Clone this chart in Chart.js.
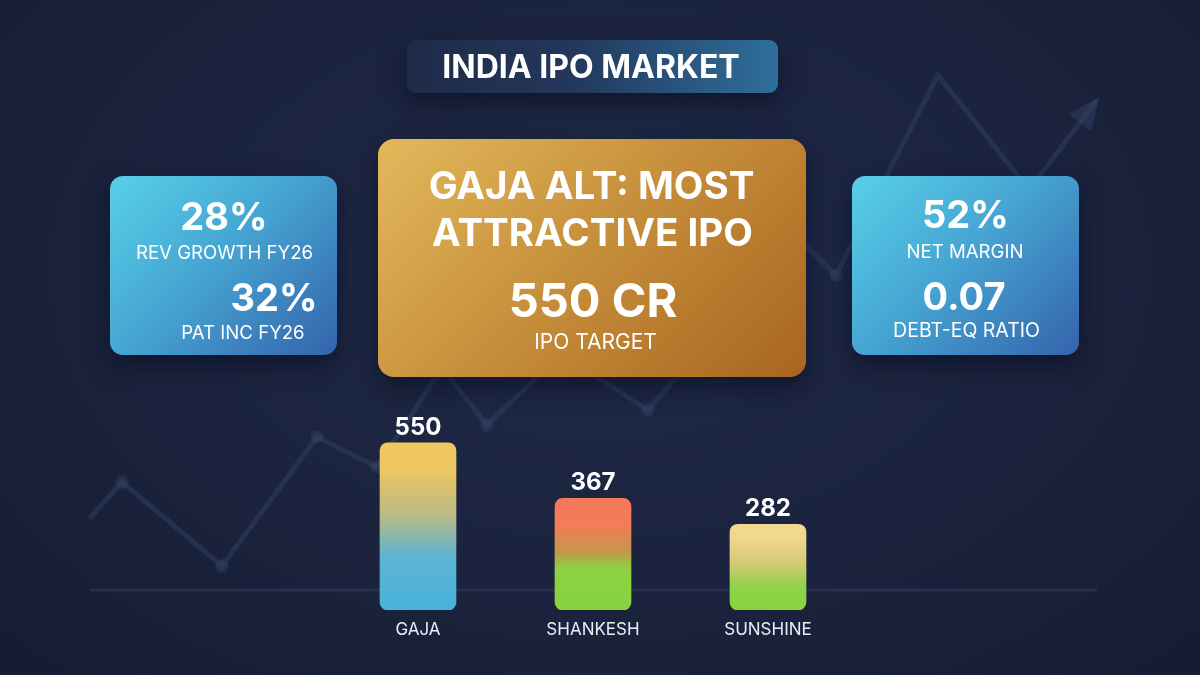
<!DOCTYPE html>
<html>
<head>
<meta charset="utf-8">
<title>India IPO Market</title>
<script src="https://cdn.jsdelivr.net/npm/chart.js@4.4.1/dist/chart.umd.min.js"></script>
<style>
  html, body { margin: 0; padding: 0; }
  body {
    width: 1200px; height: 675px; overflow: hidden; position: relative;
    font-family: "Inter", "Noto Sans", sans-serif; color: #fff;
    background: radial-gradient(ellipse at 50% 40%, #202a47 0%, #1b233e 55%, #161c32 100%);
  }
  canvas { position: absolute; left: 0; top: 0; }
  #bgChart { z-index: 0; }
  #barChart { z-index: 2; }
  .card { position: absolute; z-index: 1; box-shadow: 0 10px 24px rgba(5, 10, 25, 0.55); }
  .t { position: absolute; line-height: 1; white-space: nowrap; transform: translate(-50%, -50%); }
  .b { font-weight: 700; }
  #pill {
    left: 407px; top: 40px; width: 371px; height: 53px; border-radius: 9px;
    background: linear-gradient(90deg, #1f2a48 0%, #23385c 45%, #2f6f9c 100%);
  }
  .blue {
    top: 176px; width: 227px; height: 179px; border-radius: 13px;
    background: linear-gradient(135deg, #57d0e8 0%, #46a6d3 45%, #3563ac 100%);
  }
  #gold {
    left: 378px; top: 139px; width: 428px; height: 238px; border-radius: 16px;
    background: linear-gradient(135deg, #e3b95b 0%, #c58d3a 50%, #a8651f 100%);
  }
</style>
</head>
<body>
<canvas id="bgChart" width="1200" height="675"></canvas>

<div class="card" id="pill"><div class="t b" style="left:184px;top:27px;font-size:32px;">INDIA IPO MARKET</div></div>

<div class="card blue" style="left:110px;">
  <div class="t b" style="left:114px;top:39.5px;font-size:38px;">28%</div>
  <div class="t" style="left:114.5px;top:75.5px;font-size:18.6px;">REV GROWTH FY26</div>
  <div class="t b" style="left:164px;top:121px;font-size:38px;">32%</div>
  <div class="t" style="left:133px;top:155.5px;font-size:18.6px;">PAT INC FY26</div>
</div>

<div class="card" id="gold">
  <div class="t b" style="left:213.5px;top:46px;font-size:38.5px;">GAJA ALT: MOST</div>
  <div class="t b" style="left:214.5px;top:92.5px;font-size:38.5px;">ATTRACTIVE IPO</div>
  <div class="t b" style="left:215px;top:160px;font-size:47px;">550 CR</div>
  <div class="t" style="left:217.5px;top:202px;font-size:21px;">IPO TARGET</div>
</div>

<div class="card blue" style="left:852px;">
  <div class="t b" style="left:113.5px;top:38px;font-size:38px;">52%</div>
  <div class="t" style="left:113px;top:75px;font-size:18.6px;">NET MARGIN</div>
  <div class="t b" style="left:112px;top:120px;font-size:38px;">0.07</div>
  <div class="t" style="left:114.5px;top:154.5px;font-size:19.5px;">DEBT-EQ RATIO</div>
</div>

<canvas id="barChart" width="1200" height="675"></canvas>

<script>
  // IPO size, crore
  const companies = ["GAJA", "SHANKESH", "SUNSHINE"];
  const ipoSize = [550, 367, 282];

  // decorative trend line behind the cards
  const trendX = [9, 12.2, 22.2, 31.7, 37.7, 44.2, 48.7, 56.1, 64.8, 79.8, 83.6, 93.8, 102.9, 109.7];
  const trendY = [31.4, 38.6, 21.8, 47.6, 41.6, 61.4, 50, 64.2, 53, 87.4, 80, 120, 97, 115];
  const trendBase = 17;

  const faint = "rgba(56, 72, 108, 0.42)";

  const bgDecor = {
    id: "bgDecor",
    beforeDatasetsDraw(chart) {
      const { ctx, scales } = chart;
      const yb = scales.y.getPixelForValue(trendBase);
      ctx.save();
      ctx.strokeStyle = "rgba(50, 64, 98, 0.5)";
      ctx.lineWidth = 3;
      ctx.beginPath();
      ctx.moveTo(scales.x.getPixelForValue(trendX[0]), yb);
      ctx.lineTo(scales.x.getPixelForValue(trendX[trendX.length - 1]), yb);
      ctx.stroke();
      ctx.restore();
    },
    afterDatasetsDraw(chart) {
      const pts = chart.getDatasetMeta(0).data;
      const tip = pts[pts.length - 1];
      const prev = pts[pts.length - 2];
      const ang = Math.atan2(tip.y - prev.y, tip.x - prev.x);
      const ctx = chart.ctx;
      ctx.save();
      ctx.translate(tip.x, tip.y);
      ctx.rotate(ang);
      ctx.fillStyle = faint;
      ctx.beginPath();
      ctx.moveTo(4, 0);
      ctx.lineTo(-28, -14);
      ctx.lineTo(-28, 14);
      ctx.closePath();
      ctx.fill();
      ctx.restore();
    }
  };

  const topY = Math.max(...trendY);

  new Chart(document.getElementById("bgChart").getContext("2d"), {
    type: "line",
    data: {
      datasets: [{
        data: trendX.map((x, i) => ({ x: x, y: trendY[i] })),
        borderColor: faint,
        borderWidth: 5,
        borderJoinStyle: "miter",
        pointBackgroundColor: faint,
        pointBorderWidth: 0,
        pointRadius: (c) => (c.dataIndex === 0 || c.dataIndex === trendX.length - 1 || trendY[c.dataIndex] === topY) ? 0 : 6.5,
        tension: 0,
        clip: false,
      }],
    },
    options: {
      responsive: false,
      animation: false,
      layout: { padding: 0 },
      plugins: { legend: { display: false }, tooltip: { enabled: false } },
      scales: {
        x: { type: "linear", min: 0, max: 120, display: false },
        y: { min: 0, max: 135, display: false },
      },
    },
    plugins: [bgDecor],
  });

  const barStops = [
    [[0, "#f1c962"], [0.16, "#eec660"], [0.45, "#b4b98a"], [0.68, "#5eb4d2"], [1, "#48b2dc"]],
    [[0, "#f7785a"], [0.25, "#f37c58"], [0.48, "#c4964a"], [0.62, "#8fd042"], [1, "#86d43e"]],
    [[0, "#f2da92"], [0.18, "#efd68c"], [0.45, "#d2ca76"], [0.72, "#92d24a"], [1, "#88d440"]],
  ];

  function barFill(c) {
    const chart = c.chart;
    if (!chart.chartArea || !chart.scales.y) return barStops[c.dataIndex][0][1];
    const y = chart.scales.y;
    const g = chart.ctx.createLinearGradient(0, y.getPixelForValue(c.raw), 0, y.getPixelForValue(0));
    barStops[c.dataIndex].forEach((s) => g.addColorStop(s[0], s[1]));
    return g;
  }

  const barLabels = {
    id: "barLabels",
    afterDatasetsDraw(chart) {
      const { ctx } = chart;
      const meta = chart.getDatasetMeta(0);
      ctx.save();
      ctx.textAlign = "center";
      ctx.textBaseline = "alphabetic";
      meta.data.forEach((bar, i) => {
        ctx.fillStyle = "#ffffff";
        ctx.font = "700 24px Inter, sans-serif";
        ctx.fillText(String(ipoSize[i]), bar.x, bar.y - 8);
        ctx.fillStyle = "#e9edf5";
        ctx.font = "400 17px Inter, sans-serif";
        ctx.fillText(companies[i], bar.x, bar.base + 25);
      });
      ctx.restore();
    }
  };

  new Chart(document.getElementById("barChart").getContext("2d"), {
    type: "bar",
    data: {
      labels: companies,
      datasets: [{
        data: ipoSize,
        backgroundColor: barFill,
        borderRadius: 8,
        borderSkipped: false,
        barThickness: 76,
      }],
    },
    options: {
      responsive: false,
      animation: false,
      layout: { padding: { left: 330.5, right: 344.5, top: 427.6, bottom: 65 } },
      plugins: { legend: { display: false }, tooltip: { enabled: false } },
      scales: {
        x: { display: false },
        y: { min: 0, max: 600, display: false },
      },
    },
    plugins: [barLabels],
  });
</script>
</body>
</html>
